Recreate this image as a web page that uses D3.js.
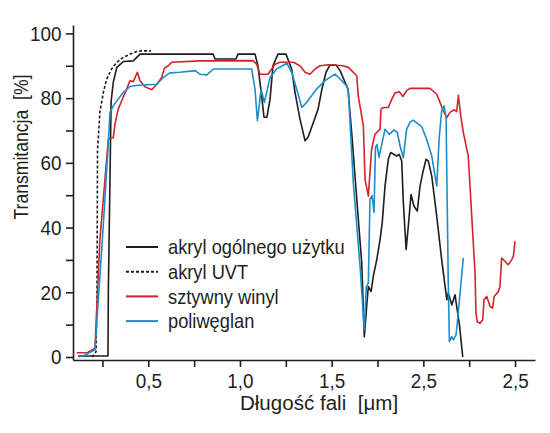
<!DOCTYPE html>
<html>
<head>
<meta charset="utf-8">
<script src="https://cdn.jsdelivr.net/npm/d3@7"></script>
<style>
  body { margin: 0; background: #fff; }
  text { font-family: "Liberation Sans", Arial, sans-serif; fill: #231f20; white-space: pre; }
</style>
</head>
<body>
<div id="chart"></div>
<script>
// wavelength [um], transmittance [%]
const akrylOgolny = [
  [0.117, 0.3], [0.280, 0.3], [0.282, 20.2], [0.297, 78.8], [0.309, 84.9], [0.328, 89.5],
  [0.364, 91.3], [0.418, 91.5], [0.455, 93.6], [0.853, 93.6], [0.864, 92.1], [0.978, 92.1],
  [0.989, 93.6], [1.082, 93.6], [1.098, 90.0], [1.120, 79.7], [1.131, 74.1], [1.147, 74.1],
  [1.164, 79.7], [1.180, 90.0], [1.207, 93.6], [1.251, 93.6], [1.282, 89.0], [1.300, 81.8],
  [1.327, 73.6], [1.355, 66.8], [1.371, 67.9], [1.393, 71.3], [1.426, 76.6], [1.447, 82.8],
  [1.469, 88.0], [1.491, 90.2], [1.524, 90.2], [1.546, 88.5], [1.573, 84.9], [1.589, 82.8],
  [1.609, 69.5], [1.637, 48.7], [1.664, 29.1], [1.678, 6.3], [1.691, 15.6], [1.700, 21.8],
  [1.715, 20.2], [1.727, 24.9], [1.746, 30.1], [1.764, 36.3], [1.776, 41.6], [1.791, 52.8],
  [1.809, 61.1], [1.822, 63.2], [1.855, 62.1], [1.869, 62.6], [1.882, 60.6], [1.891, 47.7],
  [1.906, 33.2], [1.918, 40.4], [1.933, 50.2], [1.949, 46.6], [1.967, 45.1], [1.982, 52.8],
  [1.997, 57.0], [2.015, 61.1], [2.027, 60.6], [2.046, 55.9], [2.073, 43.5], [2.100, 30.1],
  [2.128, 17.7], [2.136, 19.8], [2.155, 16.1], [2.173, 19.2], [2.182, 15.6], [2.196, 10.4],
  [2.215, 0]
];

const akrylUVT = [
  [0.193, 0], [0.215, 1.6], [0.220, 17.7], [0.223, 64.2], [0.227, 67.3], [0.236, 75.7],
  [0.255, 81.8], [0.273, 85.9], [0.300, 89.0], [0.328, 91.1], [0.364, 92.6], [0.400, 93.6],
  [0.437, 94.4], [0.464, 94.6], [0.515, 94.6]
];

const sztywnyWinyl = [
  [0.110, 1.3], [0.167, 1.3], [0.209, 2.7], [0.236, 36.3], [0.282, 67.3], [0.309, 67.8],
  [0.318, 71.9], [0.336, 76.6], [0.355, 79.2], [0.382, 82.8], [0.400, 85.4], [0.418, 85.1],
  [0.440, 88.0], [0.455, 85.4], [0.482, 83.5], [0.519, 82.6], [0.546, 84.3], [0.573, 86.4],
  [0.587, 89.2], [0.609, 90.0], [0.628, 91.1], [0.782, 91.5], [1.071, 91.6], [1.091, 90.5],
  [1.109, 87.4], [1.153, 87.4], [1.173, 89.0], [1.191, 90.5], [1.218, 91.1], [1.291, 91.1],
  [1.327, 90.0], [1.355, 88.0], [1.382, 87.4], [1.409, 89.0], [1.437, 90.0], [1.482, 90.3],
  [1.562, 90.0], [1.591, 89.5], [1.637, 86.9], [1.645, 80.7], [1.673, 71.4], [1.682, 54.9],
  [1.700, 49.7], [1.718, 64.2], [1.736, 68.8], [1.764, 70.4], [1.769, 76.6], [1.782, 77.1],
  [1.809, 77.1], [1.828, 79.7], [1.846, 81.6], [1.869, 82.0], [1.888, 80.5], [1.909, 82.3],
  [1.927, 83.0], [2.036, 83.0], [2.073, 81.2], [2.091, 78.7], [2.109, 76.1], [2.128, 74.0],
  [2.145, 75.6], [2.169, 76.4], [2.182, 75.8], [2.191, 80.9], [2.204, 74.5], [2.218, 69.4],
  [2.245, 62.1], [2.264, 43.5], [2.282, 26.0], [2.287, 13.6], [2.294, 10.9], [2.309, 10.4],
  [2.324, 11.5], [2.331, 17.7], [2.346, 18.7], [2.364, 15.6], [2.378, 15.1], [2.386, 18.7],
  [2.409, 20.2], [2.418, 21.8], [2.427, 30.6], [2.445, 29.6], [2.463, 28.5], [2.482, 30.1],
  [2.491, 31.1], [2.500, 35.8]
];

const poliweglan = [
  [0.122, 0.1], [0.155, 0.6], [0.209, 2.2], [0.253, 39.4], [0.280, 64.2], [0.291, 75.6],
  [0.309, 77.6], [0.336, 79.7], [0.364, 81.8], [0.400, 83.6], [0.445, 84.0], [0.546, 84.3],
  [0.582, 86.4], [0.618, 87.8], [0.673, 88.0], [0.755, 88.5], [0.782, 87.4], [0.819, 87.2],
  [0.855, 89.0], [1.064, 89.0], [1.082, 82.8], [1.095, 73.0], [1.115, 82.8], [1.133, 78.7],
  [1.164, 86.4], [1.200, 89.0], [1.255, 90.8], [1.282, 88.0], [1.309, 82.8], [1.337, 77.1],
  [1.364, 78.7], [1.418, 82.8], [1.464, 85.4], [1.518, 87.4], [1.546, 85.9], [1.582, 83.8],
  [1.591, 82.3], [1.618, 53.9], [1.655, 28.0], [1.678, 8.4], [1.689, 21.7], [1.700, 22.9],
  [1.709, 48.7], [1.720, 49.9], [1.731, 44.7], [1.739, 64.8], [1.747, 65.7], [1.758, 61.7],
  [1.791, 70.4], [1.814, 68.8], [1.840, 70.2], [1.858, 69.4], [1.873, 65.2], [1.891, 61.6],
  [1.909, 70.4], [1.927, 72.5], [1.945, 73.2], [1.991, 71.2], [2.018, 67.3], [2.046, 62.1],
  [2.073, 52.8], [2.086, 67.3], [2.100, 76.1], [2.113, 77.6], [2.124, 74.0], [2.136, 22.9],
  [2.142, 4.7], [2.155, 6.3], [2.164, 5.3], [2.178, 6.8], [2.185, 10.4], [2.218, 30.6]
];

const seriesNames = ["akryl ogólnego użytku", "akryl UVT", "sztywny winyl", "poliwęglan"];
const xTickValues = [0.25, 0.5, 0.75, 1.0, 1.25, 1.5, 1.75, 2.0, 2.25, 2.5];
const xTickLabels = ["0,5", "1,0", "1,5", "2,5", "2,5"];
const yTickValues = [0, 10, 20, 30, 40, 50, 60, 70, 80, 90, 100];

const width = 550, height = 433;
// horizontal squeeze to imitate the condensed typeface of the original
const tickNarrow = 0.9, legendNarrow = 0.87, titleNarrow = 0.88, xTitleNarrow = 0.98;

const svg = d3.select("#chart")
  .append("svg")
  .attr("width", width)
  .attr("height", height);

// scales fitted to the reference frame
const x = d3.scaleLinear().domain([0.0893, 2.609]).range([73, 535]);
const y = d3.scaleLinear().domain([-0.93, 102.6]).range([360, 25]);

// y axis
svg.append("g")
  .attr("class", "y-axis")
  .attr("transform", "translate(73,0)")
  .call(d3.axisLeft(y)
    .tickValues(yTickValues)
    .tickSize(7)
    .tickSizeOuter(0)
    .tickFormat(d => d % 20 === 0 ? d : ""));

svg.selectAll(".y-axis .tick text")
  .attr("x", -11.5 / tickNarrow)
  .attr("transform", `scale(${tickNarrow},1)`);

// x axis
const majorTicks = xTickValues.filter((d, i) => i % 2 === 1);
svg.append("g")
  .attr("class", "x-axis")
  .attr("transform", "translate(0,360)")
  .call(d3.axisBottom(x)
    .tickValues(xTickValues)
    .tickSize(7)
    .tickSizeOuter(0)
    .tickPadding(6)
    .tickFormat(d => {
      const i = majorTicks.indexOf(d);
      return i >= 0 ? xTickLabels[i] : "";
    }));

svg.selectAll(".x-axis .tick text")
  .attr("transform", `scale(${tickNarrow},1)`);

svg.selectAll(".domain, .tick line")
  .attr("stroke", "#231f20")
  .attr("stroke-width", 1.6);
svg.selectAll(".tick text")
  .style("font-size", "21px")
  .style("font-family", "\"Liberation Sans\", Arial, sans-serif")
  .attr("fill", "#231f20");

// curves
const line = d3.line()
  .x(d => x(d[0]))
  .y(d => y(d[1]));

const series = [
  {data: akrylOgolny, color: "#1d1d1b", dash: null},
  {data: akrylUVT, color: "#1d1d1b", dash: "3,2"},
  {data: sztywnyWinyl, color: "#d2232a", dash: null},
  {data: poliweglan, color: "#1b8ec9", dash: null}
];

svg.selectAll(".curve")
  .data(series)
  .enter()
  .append("path")
  .attr("class", "curve")
  .attr("d", d => line(d.data))
  .attr("fill", "none")
  .attr("stroke", d => d.color)
  .attr("stroke-width", 1.6)
  .attr("stroke-linejoin", "round")
  .attr("stroke-dasharray", d => d.dash);

// legend
const legend = svg.append("g");
series.forEach((s, i) => {
  const ly = 247 + i * 24.7;
  legend.append("line")
    .attr("x1", 126).attr("x2", 158)
    .attr("y1", ly).attr("y2", ly)
    .attr("stroke", s.color)
    .attr("stroke-width", 2)
    .attr("stroke-dasharray", s.dash);
  legend.append("text")
    .attr("transform", `translate(168,${ly}) scale(${legendNarrow},1)`)
    .attr("dy", "0.35em")
    .style("font-size", "21px")
    .text(seriesNames[i]);
});

// axis titles
svg.append("text")
  .attr("transform", `translate(319,410) scale(${xTitleNarrow},1)`)
  .attr("text-anchor", "middle")
  .style("font-size", "21px")
  .text("Długość fali  [μm]");

svg.append("text")
  .attr("transform", `translate(28,147) rotate(-90) scale(${titleNarrow},1)`)
  .attr("text-anchor", "middle")
  .style("font-size", "20px")
  .text("Transmitancja  [%]");
</script>
</body>
</html>
